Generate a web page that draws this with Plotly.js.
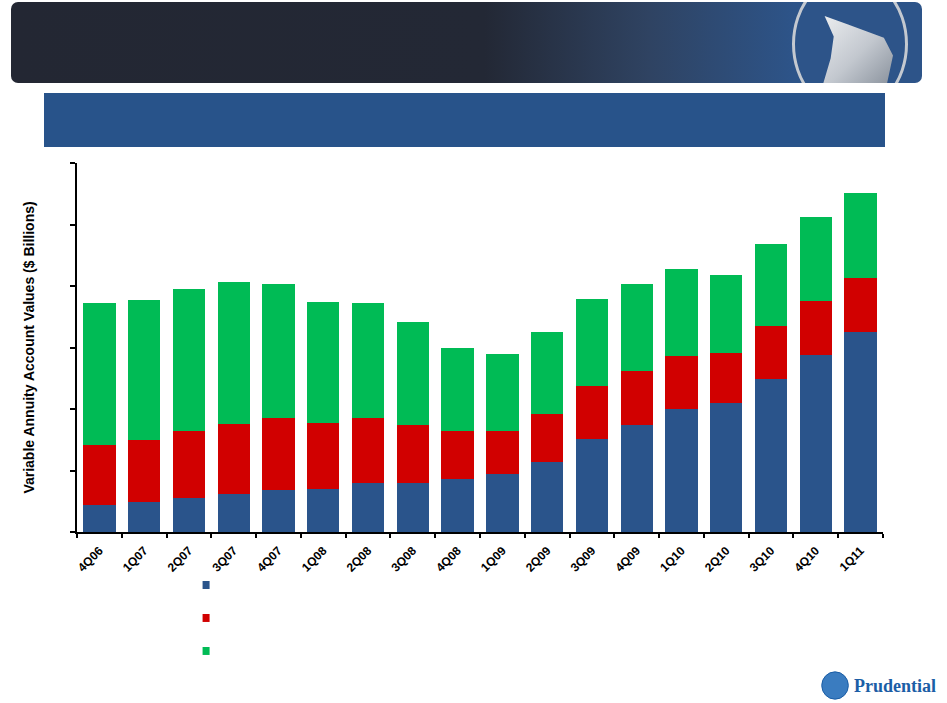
<!DOCTYPE html>
<html>
<head>
<meta charset="utf-8">
<script src="https://cdn.plot.ly/plotly-3.0.1.min.js"></script>
<style>
  body { margin: 0; background: #fff; }
  #wrap { position: relative; width: 947px; height: 703px; overflow: hidden; }
  #plot { position: absolute; left: 0; top: 0; width: 947px; height: 703px; }
  #header {
    position: absolute; left: 11px; top: 2px; width: 911px; height: 81px;
    border-radius: 7px; overflow: hidden;
    background: linear-gradient(to right, #232733 0%, #232835 52%, #2f4362 70%, #2d5489 86%, #2d5489 100%);
  }
  #ring {
    position: absolute; left: 781px; top: -28px; width: 110px; height: 134px;
    border: 3px solid #c4c9d0; border-radius: 50%;
  }
  #figure {
    position: absolute; left: 806px; top: 14px; width: 76px; height: 68px;
    background: linear-gradient(135deg, #eef0f2 0%, #c3c8cf 55%, #8a929d 100%);
    clip-path: polygon(10% 0%, 40% 12%, 88% 32%, 100% 58%, 92% 100%, 8% 100%, 18% 62%, 22% 30%);
  }
  #banner {
    position: absolute; left: 44px; top: 93px; width: 841px; height: 54px;
    background: #28538a;
  }
</style>
</head>
<body>
<div id="wrap">
  <div id="plot"></div>
  <div id="header"><div id="ring"></div><div id="figure"></div></div>
  <div id="banner"></div>
</div>
<script>
// quarters on the x axis
const quarters = ["4Q06", "1Q07", "2Q07", "3Q07", "4Q07", "1Q08", "2Q08", "3Q08", "4Q08",
  "1Q09", "2Q09", "3Q09", "4Q09", "1Q10", "2Q10", "3Q10", "4Q10", "1Q11"];

// account values, $ billions
const blueValues = [8.7, 9.7, 11.2, 12.4, 13.7, 13.9, 15.8, 16.0, 17.3, 18.8, 22.9, 30.1, 34.8, 39.9, 42.0, 49.8, 57.6, 64.9];
const redValues = [19.7, 20.2, 21.6, 22.8, 23.3, 21.6, 21.2, 18.8, 15.5, 14.0, 15.6, 17.4, 17.7, 17.4, 16.3, 17.2, 17.6, 17.8];
const greenValues = [46.2, 45.6, 46.1, 46.2, 43.6, 39.4, 37.6, 33.4, 27.0, 25.1, 26.5, 28.2, 28.1, 28.1, 25.2, 26.6, 27.2, 27.4];

const seriesValues = [blueValues, redValues, greenValues];
const seriesColors = ["#2a548b", "#d10000", "#00bb55"];

const data = seriesValues.map(function (vals, i) {
  return {
    x: quarters,
    y: vals,
    type: "bar",
    marker: { color: seriesColors[i], line: { width: 0 } },
    showlegend: false,
    hoverinfo: "x+y"
  };
});

// legend squares (labels are blank in the original slide)
const shapes = seriesColors.map(function (c, i) {
  const yc = -0.1436 - i * 0.0894;
  return {
    type: "rect", xref: "paper", yref: "paper",
    x0: 0.1558, x1: 0.1645,
    y0: yc - 0.0108, y1: yc + 0.0108,
    fillcolor: c, line: { width: 0 }
  };
});

// Prudential logo mark
shapes.push({
  type: "circle", xref: "paper", yref: "paper",
  x0: 0.924, x1: 0.957, y0: -0.453, y1: -0.379,
  fillcolor: "#3a7cc0", line: { color: "#1b5ea6", width: 1 }
});

const layout = {
  width: 947,
  height: 703,
  margin: { l: 77, r: 64, t: 163, b: 171 },
  paper_bgcolor: "rgba(0,0,0,0)",
  plot_bgcolor: "rgba(0,0,0,0)",
  barmode: "stack",
  bargap: 0.28,
  font: { family: "Liberation Sans, Arial, sans-serif", color: "#000" },
  xaxis: {
    type: "category",
    showline: true, linecolor: "#000", linewidth: 2,
    ticks: "outside", ticklen: 4, tickcolor: "#000", tickwidth: 2,
    tickson: "boundaries",
    tickangle: -45,
    ticklabelstandoff: 5,
    tickfont: { size: 12, weight: "bold", color: "#000" },
    showgrid: false, zeroline: false
  },
  yaxis: {
    range: [0, 120],
    dtick: 20,
    showline: true, linecolor: "#000", linewidth: 2,
    ticks: "outside", ticklen: 5, tickcolor: "#000", tickwidth: 2,
    showticklabels: false,
    showgrid: false, zeroline: false,
    title: {
      text: "Variable Annuity Account Values ($ Billions)",
      font: { size: 14, weight: "bold", color: "#000" },
      standoff: 32
    }
  },
  shapes: shapes,
  annotations: [{
    xref: "paper", yref: "paper",
    x: 1.068, y: -0.417,
    xanchor: "right", yanchor: "middle",
    text: "<b>Prudential</b>",
    showarrow: false,
    font: { family: "Liberation Serif, serif", size: 18, color: "#1b5ea6" }
  }]
};

Plotly.newPlot("plot", data, layout, { displayModeBar: false, staticPlot: true });
</script>
</body>
</html>
